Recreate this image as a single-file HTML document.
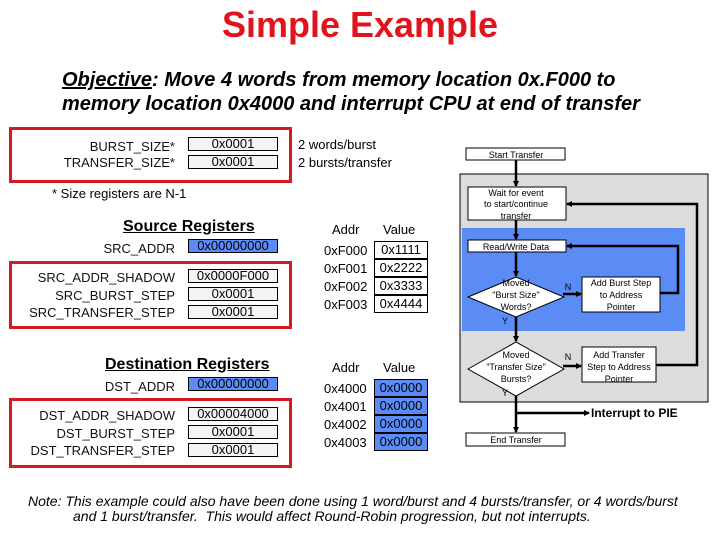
<!DOCTYPE html>
<html><head><meta charset="utf-8"><style>
body{margin:0;width:720px;height:540px;background:#fff;position:relative;overflow:hidden;font-family:"Liberation Sans",Arial,sans-serif}
.a{position:absolute;white-space:nowrap}
.r{position:absolute;border:3px solid #d01c22;box-sizing:border-box}
.lbl{position:absolute;font-size:13px;text-align:right;width:175px;left:0;color:#111}
.v{position:absolute;left:188px;width:90px;height:14px;border:1px solid #000;box-sizing:border-box;background:#f4f4f4;font-size:13px;line-height:12px;text-align:center}
.b{background:#5b8cf5}
.m{position:absolute;font-size:13px}
.mb{position:absolute;left:374px;width:54px;height:18px;border:1px solid #000;box-sizing:border-box;font-size:13px;line-height:16px;text-align:center}
</style></head><body>
<div class="a" style="left:0;width:720px;text-align:center;top:4px;font-size:36px;font-weight:bold;color:#e0141c">Simple Example</div>
<div class="a" style="left:62px;top:68px;font-size:20px;font-weight:bold;font-style:italic;line-height:24px"><u>Objective</u>: Move 4 words from memory location 0x.F000 to<br>memory location 0x4000 and interrupt CPU at end of transfer</div>

<div class="r" style="left:9px;top:127px;width:283px;height:56px"></div>
<div class="lbl" style="top:139px">BURST_SIZE*</div>
<div class="lbl" style="top:155px">TRANSFER_SIZE*</div>
<div class="v" style="top:137px">0x0001</div>
<div class="v" style="top:155px">0x0001</div>
<div class="m" style="left:298px;top:137px">2 words/burst</div>
<div class="m" style="left:298px;top:155px">2 bursts/transfer</div>
<div class="m" style="left:52px;top:186px">* Size registers are N-1</div>

<div class="a" style="left:123px;top:218px;font-size:16px;font-weight:bold;text-decoration:underline">Source Registers</div>
<div class="lbl" style="top:241px">SRC_ADDR</div>
<div class="v b" style="top:239px">0x00000000</div>
<div class="r" style="left:9px;top:261px;width:283px;height:68px"></div>
<div class="lbl" style="top:270px">SRC_ADDR_SHADOW</div>
<div class="lbl" style="top:288px">SRC_BURST_STEP</div>
<div class="lbl" style="top:305px">SRC_TRANSFER_STEP</div>
<div class="v" style="top:269px">0x0000F000</div>
<div class="v" style="top:287px">0x0001</div>
<div class="v" style="top:305px">0x0001</div>

<div class="a" style="left:105px;top:356px;font-size:16px;font-weight:bold;text-decoration:underline">Destination Registers</div>
<div class="lbl" style="top:379px">DST_ADDR</div>
<div class="v b" style="top:377px">0x00000000</div>
<div class="r" style="left:9px;top:398px;width:283px;height:70px"></div>
<div class="lbl" style="top:408px">DST_ADDR_SHADOW</div>
<div class="lbl" style="top:426px">DST_BURST_STEP</div>
<div class="lbl" style="top:443px">DST_TRANSFER_STEP</div>
<div class="v" style="top:407px">0x00004000</div>
<div class="v" style="top:425px">0x0001</div>
<div class="v" style="top:443px">0x0001</div>

<div class="m" style="left:332px;top:222px">Addr</div><div class="m" style="left:383px;top:222px">Value</div>
<div class="m" style="left:324px;top:243px">0xF000</div><div class="mb" style="top:241px">0x1111</div>
<div class="m" style="left:324px;top:261px">0xF001</div><div class="mb" style="top:259px">0x2222</div>
<div class="m" style="left:324px;top:279px">0xF002</div><div class="mb" style="top:277px">0x3333</div>
<div class="m" style="left:324px;top:297px">0xF003</div><div class="mb" style="top:295px">0x4444</div>

<div class="m" style="left:332px;top:360px">Addr</div><div class="m" style="left:383px;top:360px">Value</div>
<div class="m" style="left:324px;top:381px">0x4000</div><div class="mb b" style="top:379px">0x0000</div>
<div class="m" style="left:324px;top:399px">0x4001</div><div class="mb b" style="top:397px">0x0000</div>
<div class="m" style="left:324px;top:417px">0x4002</div><div class="mb b" style="top:415px">0x0000</div>
<div class="m" style="left:324px;top:435px">0x4003</div><div class="mb b" style="top:433px">0x0000</div>

<svg class="a" style="left:0;top:0" width="720" height="540" font-family="Liberation Sans, Arial, sans-serif" font-size="9">
<defs><marker id="ah" markerWidth="6" markerHeight="6" refX="5" refY="3" orient="auto" markerUnits="userSpaceOnUse"><path d="M0,0L6,3L0,6z" fill="#000"/></marker></defs>
<rect x="460" y="174" width="248" height="228" fill="#dcdcdc" stroke="#000"/>
<rect x="462" y="228" width="223" height="103" fill="#5b8cf5"/>
<g stroke="#000" stroke-width="2.5" fill="none">
<line x1="516" y1="160" x2="516" y2="186" marker-end="url(#ah)"/>
<line x1="516" y1="220" x2="516" y2="239" marker-end="url(#ah)"/>
<line x1="516" y1="252" x2="516" y2="276" marker-end="url(#ah)"/>
<line x1="563" y1="294" x2="581" y2="294" marker-end="url(#ah)"/>
<polyline points="660,293 678,293 678,246 567,246" marker-end="url(#ah)"/>
<line x1="516" y1="317" x2="516" y2="341" marker-end="url(#ah)"/>
<line x1="563" y1="366" x2="581" y2="366" marker-end="url(#ah)"/>
<polyline points="656,365 697,365 697,204 567,204" marker-end="url(#ah)"/>
<line x1="516" y1="395" x2="516" y2="432" marker-end="url(#ah)"/>
<line x1="516" y1="413" x2="589" y2="413" marker-end="url(#ah)"/>
</g>
<g stroke="#000" fill="#fff">
<rect x="466" y="148" width="99" height="12"/>
<rect x="468" y="187" width="98" height="33"/>
<rect x="468" y="240" width="98" height="12"/>
<polygon points="468,297 516,277 564,297 516,317"/>
<rect x="582" y="277" width="78" height="35"/>
<polygon points="468,369 516,342 564,369 516,396"/>
<rect x="582" y="347" width="74" height="35"/>
<rect x="466" y="433" width="99" height="13"/>
</g>
<g text-anchor="middle" fill="#000">
<text x="516" y="158">Start Transfer</text>
<text x="516" y="196">Wait for event</text><text x="516" y="207">to start/continue</text><text x="516" y="219">transfer</text>
<text x="516" y="250">Read/Write Data</text>
<text x="516" y="286">Moved</text><text x="516" y="298">"Burst Size"</text><text x="516" y="310">Words?</text>
<text x="621" y="286">Add Burst Step</text><text x="621" y="298">to Address</text><text x="621" y="310">Pointer</text>
<text x="516" y="358">Moved</text><text x="516" y="370">"Transfer Size"</text><text x="516" y="382">Bursts?</text>
<text x="619" y="358">Add Transfer</text><text x="619" y="370">Step to Address</text><text x="619" y="382">Pointer</text>
<text x="516" y="443">End Transfer</text>
<text x="568" y="290">N</text><text x="568" y="360">N</text>
<text x="505" y="324">Y</text><text x="505" y="396">Y</text>
</g>
<text x="591" y="417" font-size="12" font-weight="bold">Interrupt to PIE</text>
</svg>

<div class="a" style="left:28px;top:494px;font-size:14px;font-style:italic;line-height:15px">Note: This example could also have been done using 1 word/burst and 4 bursts/transfer, or 4 words/burst<br><span style="padding-left:45px">and 1 burst/transfer.&nbsp; This would affect Round-Robin progression, but not interrupts.</span></div>
</body></html>
